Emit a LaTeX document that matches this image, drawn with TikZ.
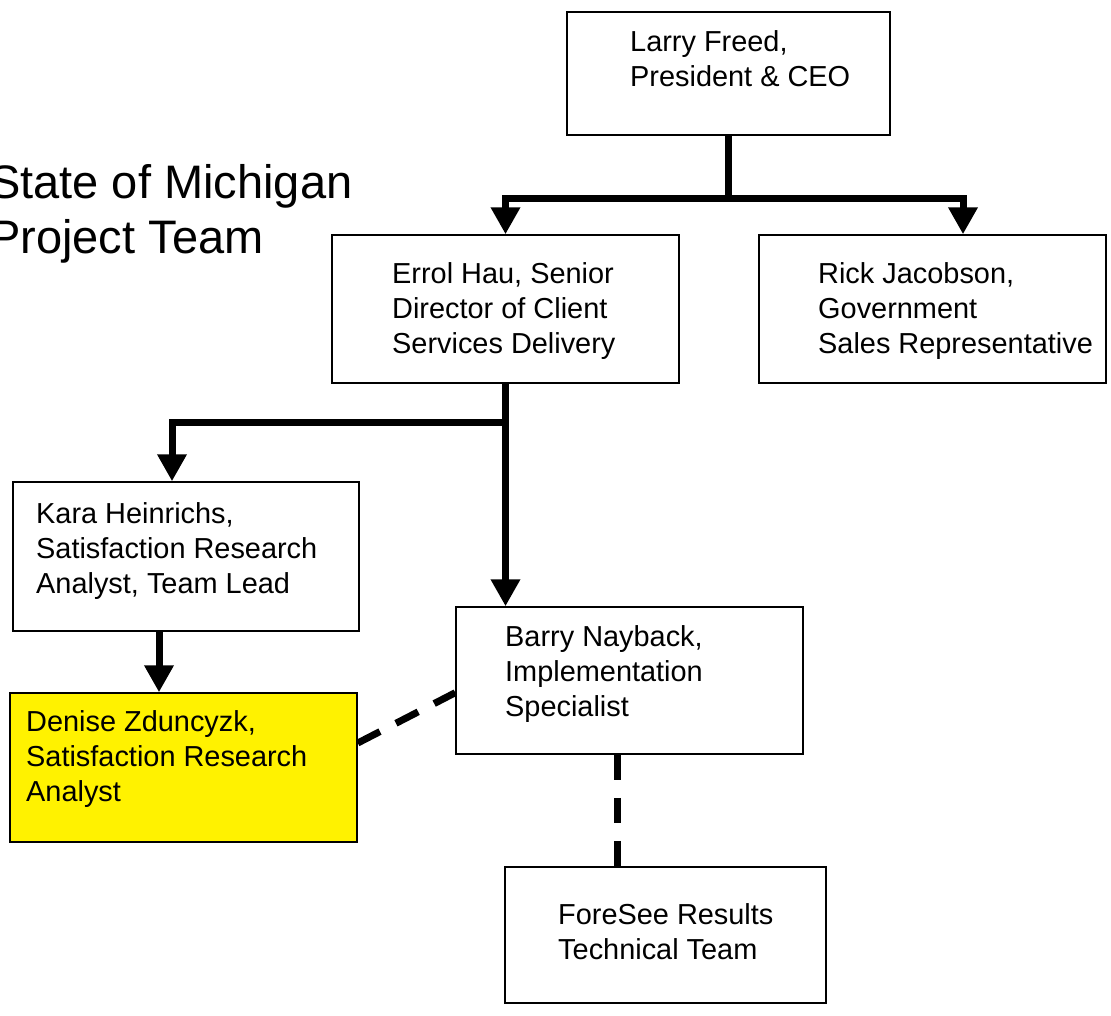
\documentclass[tikz,border=0pt]{standalone}
\usepackage{fontspec}
\setmainfont{Liberation Sans}
\usepackage{tikz}
\usetikzlibrary{arrows.meta}

\begin{document}
\begin{tikzpicture}[
    box/.style={draw, line width=1.5pt, inner sep=0pt, minimum width=347pt, minimum height=148pt},
    txt/.style={anchor=north west, inner sep=0pt, align=left, font=\fontsize{28.9}{35}\selectfont},
    link/.style={line width=7pt},
    arr/.style={-{Triangle[width=28pt,length=27pt]}},
    dashlink/.style={line width=7pt, dash pattern=on 25pt off 18pt}]
  \useasboundingbox (0pt, 0pt) rectangle (1111pt, -1015pt);
  \draw (-11.0pt, -164.0pt)node[anchor=north west, inner sep=0pt, align=left, font=\fontsize{47}{55}\selectfont](title){State of Michigan\\Project Team};
  \draw (728.5pt, -73.5pt)node[box, minimum width=323pt, minimum height=123pt](0){};
  \draw (505.5pt, -309.0pt)node[box](1){};
  \draw (932.5pt, -309.0pt)node[box](2){};
  \draw (186.0pt, -556.5pt)node[box, minimum width=346pt, minimum height=149pt](3){};
  \draw (183.5pt, -767.5pt)node[box, fill=yellow, minimum height=149pt](4){};
  \draw (629.5pt, -680.5pt)node[box, minimum height=147pt](5){};
  \draw (665.5pt, -935.0pt)node[box, minimum width=321pt, minimum height=136pt](6){};
  \draw (630.0pt, -30.0pt)node[txt](t0){Larry Freed,\\President \& CEO};
  \draw (392.0pt, -262.0pt)node[txt](t1){Errol Hau, Senior\\Director of Client\\Services Delivery};
  \draw (818.0pt, -262.0pt)node[txt](t2){Rick Jacobson,\\Government\\Sales Representative};
  \draw (36.0pt, -502.0pt)node[txt](t3){Kara Heinrichs,\\Satisfaction Research\\Analyst, Team Lead};
  \draw (26.0pt, -710.0pt)node[txt](t4){Denise Zduncyzk,\\Satisfaction Research\\Analyst};
  \draw (505.0pt, -625.0pt)node[txt](t5){Barry Nayback,\\Implementation\\Specialist};
  \draw (558.0pt, -903.0pt)node[txt](t6){ForeSee Results\\Technical Team};
  \coordinate (a1) at (505.5pt, -198.0pt);
  \coordinate (a2) at (963.0pt, -198.0pt);
  \coordinate (b) at (172.0pt, -422.0pt);
  \coordinate (c) at (159.0pt, -631.0pt);
  \coordinate (f) at (617.0pt, -754.0pt);
  \draw[link, arr] (0.south) |- (a1) -- (a1 |- 1.north);
  \draw[link, arr] (0.south) |- (a2) -- (a2 |- 2.north);
  \draw[link, arr] (1.south) -- (1.south |- 5.north);
  \draw[link, arr] (1.south |- b) -- (b) -- (b |- 3.north);
  \draw[link, arr] (3.south -| c) -- (c |- 4.north);
  \draw[dashlink] (4.8) -- (5.184);
  \draw[dashlink] (5.south -| f) -- (f |- 6.north);
\end{tikzpicture}
\end{document}
